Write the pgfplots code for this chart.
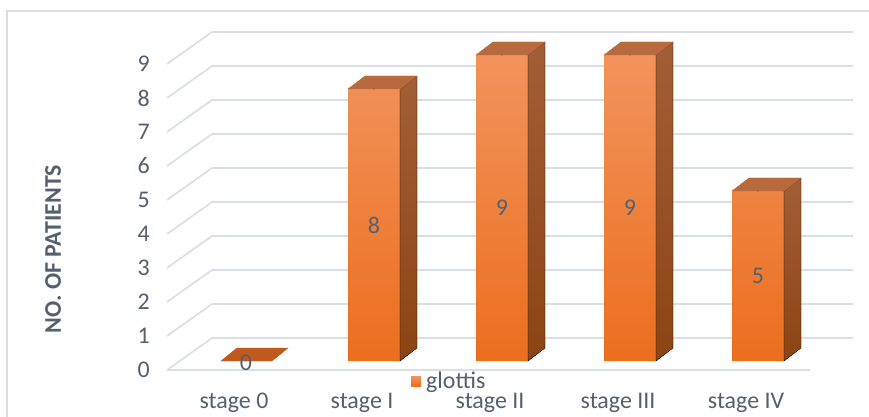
\documentclass[border=0pt]{standalone}
\usepackage{pgfplots}
\usepackage{pgfplotstable}
\pgfplotsset{compat=1.18}
\usepackage{fontspec}
\setmainfont{Carlito}
\definecolor{txt}{RGB}{86,95,110}
\definecolor{gridc}{RGB}{218,222,229}
\definecolor{framec}{RGB}{217,220,225}
\definecolor{frontT}{RGB}{241,148,92}
\definecolor{frontB}{RGB}{236,110,30}
\definecolor{sideT}{RGB}{162,94,54}
\definecolor{sideB}{RGB}{140,68,20}
\definecolor{topc}{RGB}{185,105,62}
\definecolor{zerotop}{RGB}{192,90,28}
\newcommand{\lblfont}{\fontsize{24}{28}\selectfont}
\pgfplotstableread{
x y
0 0
1 8
2 9
3 9
4 5
}\glottis
\begin{document}
\begin{tikzpicture}[x=1bp,y=1bp]
\useasboundingbox (0,0) rectangle (869,416);
\fill[white] (0,0) rectangle (869,416);
\draw[framec, line width=2bp] (7,-10) -- (7,405) -- (880,405);
% perspective grid
\foreach \v in {0,...,9} {
  \draw[gridc, line width=1.6bp] (167,46+34*\v) -- (212,78+34*\v) -- (853,78+34*\v);
}
\draw[gridc, line width=1.6bp] (167,46) -- (810,46);
\node[txt, rotate=90, font=\lblfont\bfseries] at (53,167) {NO. OF PATIENTS};
\begin{axis}[
  at={(167bp,46bp)}, anchor=south west,
  scale only axis, width=686bp, height=338bp,
  xmin=-0.6171875, xmax=4.7421875,
  ymin=-0.2647059, ymax=9.6764706,
  clip=false,
  axis line style={draw=none},
  major tick length=0pt,
  tick style={draw=none},
  ytick={-0.2647,0.7353,1.7353,2.7353,3.7353,4.7353,5.7353,6.7353,7.7353,8.7353},
  yticklabels={0,1,2,3,4,5,6,7,8,9},
  xtick={-0.09375,0.90625,1.90625,2.90625,3.90625},
  xticklabels={stage 0,stage I,stage II,stage III,stage IV},
  every tick label/.append style={font=\lblfont, text=txt, inner sep=0pt},
  yticklabel style={anchor=east, xshift=-17bp},
  xticklabel style={anchor=base, yshift=-38bp},
  legend style={at={(0.3557,-0.0330)}, anchor=west, draw=none, fill=none,
    inner sep=0pt, font=\lblfont, text=txt,
    nodes={inner sep=1bp},
    /tikz/every odd column/.append style={column sep=4bp}},
  legend image code/.code={\fill[frontB] (0bp,-5bp) rectangle (10bp,5bp);},
]
\addplot[ybar, bar width=0.40625, bar shift=0pt, draw=none,
  top color=frontT, bottom color=frontB,
  restrict y to domain=0.01:100]
  table[x=x,y=y] {\glottis};
\addlegendentry{glottis}
\addplot[scatter, only marks, mark=*, mark size=0.01pt,
  mark options={draw=none, fill=none},
  forget plot,
  visualization depends on={rawy \as \val},
  scatter/@pre marker code/.code={%
    \pgfmathsetmacro\h{34*\val}%
    \pgfmathsetmacro\hh{17*\val}%
    \pgfmathtruncatemacro\vi{round(\val)}%
    \ifdim\val pt>0.01pt
      \shade[top color=sideT, bottom color=sideB]
        (26bp,0bp) -- (43bp,13bp) -- (43bp,13bp-\h bp) -- (26bp,-\h bp) -- cycle;
      \fill[topc] (-26bp,0bp) -- (26bp,0bp) -- (43bp,13bp) -- (-9bp,13bp) -- cycle;
      \node[text=txt, inner sep=0pt, font=\lblfont] at (0bp,-\hh bp) {\vi};
    \else
      \fill[zerotop] (-25bp,0bp) -- (26bp,0bp) -- (42bp,13bp) -- (-9bp,13bp) -- cycle;
      \node[text=txt, inner sep=0pt, font=\lblfont] at (0bp,-2bp) {\vi};
    \fi
  },
  scatter/@post marker code/.code={},
  ]
  table[x=x,y=y] {\glottis};
\end{axis}
\end{tikzpicture}
\end{document}
